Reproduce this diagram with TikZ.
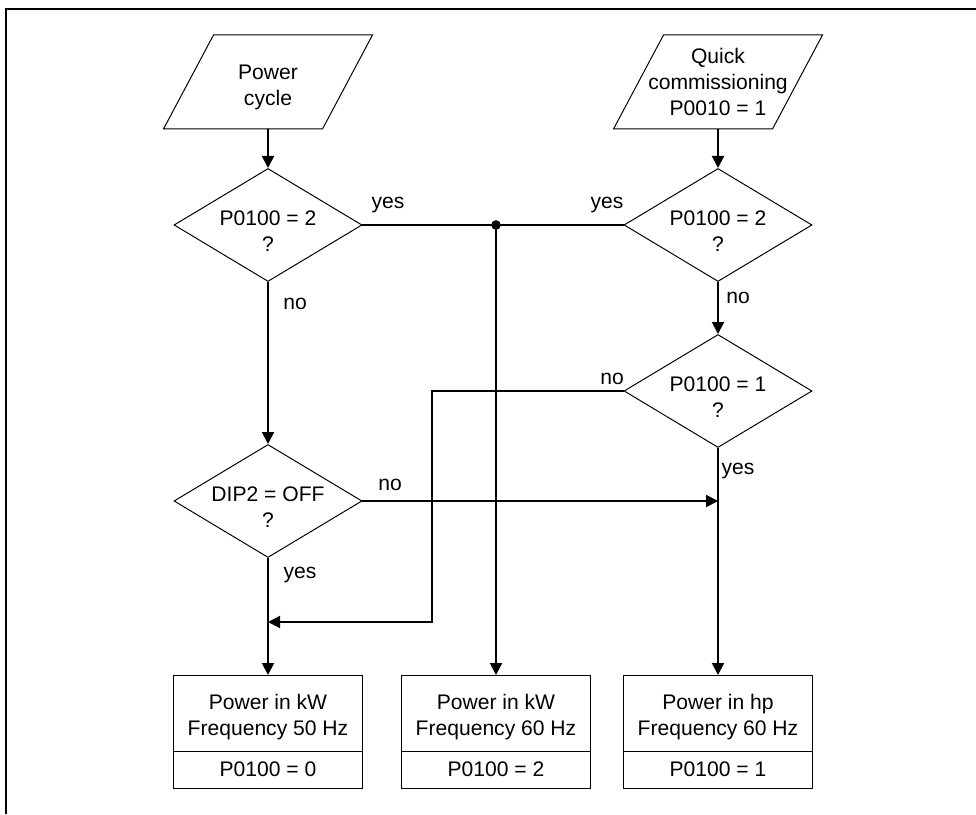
\documentclass[tikz,border=0pt]{standalone}
\usepackage{fontspec}
\setmainfont{Liberation Sans}
\usepackage{tikz}
\usetikzlibrary{shapes.geometric,arrows.meta,positioning,calc}
\tikzset{
  inp/.style={rectangle,minimum width=5.225cm,minimum height=2.35cm,align=center,
    inner sep=0pt,outer sep=0pt},
  dec/.style={diamond,draw,line width=0.7pt,aspect=1.664,inner xsep=0pt,inner ysep=-0.15cm,
    minimum width=4.7cm,minimum height=2.825cm,align=center,text height=1.33cm},
  res/.style={rectangle,draw,line width=0.7pt,minimum width=4.725cm,minimum height=1.9cm,
    align=center,inner sep=0pt,outer sep=0pt,text height=1.23cm},
  parm/.style={rectangle,draw,line width=0.7pt,minimum width=4.725cm,minimum height=0.925cm,
    align=center,inner sep=0pt,outer sep=0pt},
  arr/.style={-{Triangle[length=0.3cm,width=0.3cm]},line width=1.4pt},
  lnk/.style={line width=1.4pt},
  lbl/.style={inner sep=0pt},
  outl/.style={line width=0.7pt,line join=miter}
}

\begin{document}
\begin{tikzpicture}[every node/.style={font=\fontsize{15}{18.5}\selectfont}]
    \useasboundingbox (0,0) rectangle (24.4,20.35);
    \draw[lnk] (0.15,0) -- (0.15,20.125) -- (24.4,20.125);

    % Start conditions
    \node[inp,text height=1.27cm] (pcyc) at (6.7, 18.3) {Power\\cycle};
    \node[inp] (qcom) at (17.95, 18.3) {Quick\\commissioning\\P0010 = 1};
    \draw[outl] ([xshift=1.25cm]pcyc.north west) -- (pcyc.north east)
      -- ([xshift=-1.25cm]pcyc.south east) -- (pcyc.south west) -- cycle;
    \draw[outl] ([xshift=1.25cm]qcom.north west) -- (qcom.north east)
      -- ([xshift=-1.25cm]qcom.south east) -- (qcom.south west) -- cycle;

    % Decisions
    \node[dec] (dtwo) at (6.7, 14.725) {P0100 = 2\\?};
    \node[dec] (qtwo) at (17.95, 14.725) {P0100 = 2\\?};
    \node[dec] (qone) at (17.95, 10.575) {P0100 = 1\\?};
    \node[dec] (dip) at (6.7, 7.825) {DIP2 = OFF\\?};

    % Results
    \node[res] (kw50) at (6.7, 2.525) {Power in kW\\Frequency 50 Hz};
    \node[parm,below=0pt of kw50] (kw50p) {P0100 = 0};
    \node[res] (kw60) at (12.4, 2.525) {Power in kW\\Frequency 60 Hz};
    \node[parm,below=0pt of kw60] (kw60p) {P0100 = 2};
    \node[res] (hp60) at (17.95, 2.525) {Power in hp\\Frequency 60 Hz};
    \node[parm,below=0pt of hp60] (hp60p) {P0100 = 1};

    % Labels
    \node[lbl] (ya) at (9.7, 15.225) {yes};
    \node[lbl] (yb) at (15.175, 15.225) {yes};
    \node[lbl] (na) at (7.375, 12.75) {no};
    \node[lbl] (nb) at (18.45, 12.9) {no};
    \node[lbl] (nc) at (15.3, 10.875) {no};
    \node[lbl] (yc) at (18.45, 8.575) {yes};
    \node[lbl] (nd) at (9.75, 8.225) {no};
    \node[lbl] (yd) at (7.5, 5.975) {yes};

    % Connections
    \coordinate (jn) at (12.4, 14.725);
    \coordinate (turn) at (10.8, 4.8);
    \coordinate (mrg) at (6.7, 4.8);
    \draw[arr] (pcyc) -- (dtwo);
    \draw[arr] (qcom) -- (qtwo);
    \draw[lnk] (dtwo.east) -- (qtwo.west);
    \fill (jn) circle (0.12cm);
    \draw[arr] (jn) -- (kw60);
    \draw[arr] (dtwo) -- (dip);
    \draw[arr] (qtwo) -- (qone);
    \draw[arr] (qone.west) -| (turn) -- (mrg);
    \draw[arr] (dip.east) -- (dip.east -| qone);
    \draw[arr] (dip) -- (kw50);
    \draw[arr] (qone) -- (hp60);

  \end{tikzpicture}
\end{document}
